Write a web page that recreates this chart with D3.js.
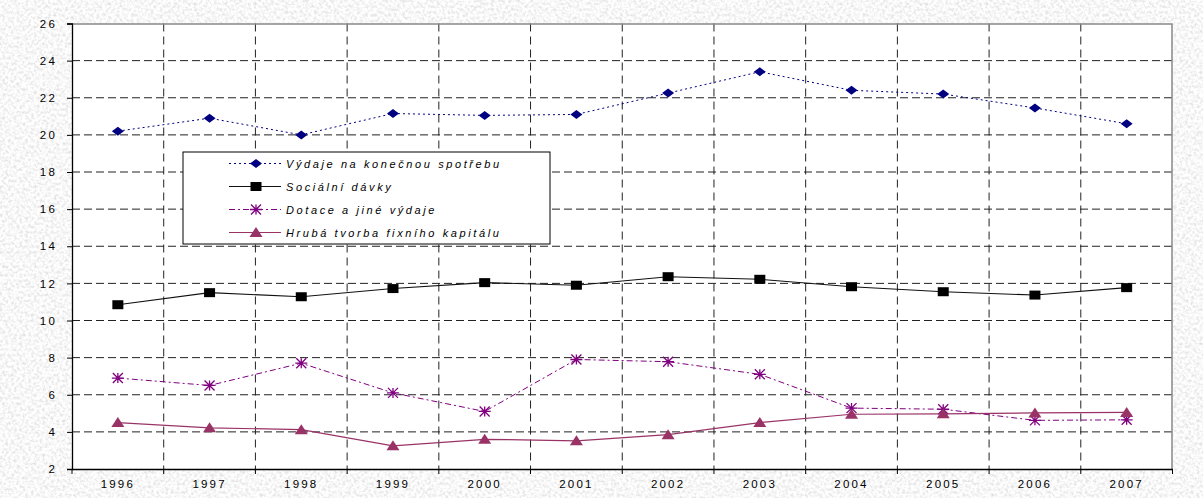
<!DOCTYPE html>
<html>
<head>
<meta charset="utf-8">
<script src="https://cdn.jsdelivr.net/npm/d3@7"></script>
<style>
  body { margin: 0; background: #fff; }
  text { font-family: "Liberation Sans", Arial, sans-serif; fill: #000; }
</style>
</head>
<body>
<div class="chart"></div>
<script>
const years = ["1996", "1997", "1998", "1999", "2000", "2001", "2002", "2003", "2004", "2005", "2006", "2007"]
const vydaje = [20.2, 20.9, 20.0, 21.15, 21.05, 21.1, 22.25, 23.4, 22.4, 22.2, 21.45, 20.6]
const socialni = [10.85, 11.5, 11.28, 11.72, 12.04, 11.9, 12.36, 12.22, 11.82, 11.55, 11.37, 11.77]
const dotace = [6.9, 6.5, 7.7, 6.1, 5.1, 7.9, 7.78, 7.1, 5.28, 5.22, 4.62, 4.65]
const hruba = [4.5, 4.22, 4.12, 3.25, 3.6, 3.52, 3.85, 4.5, 4.95, 4.97, 5.02, 5.05]
const yTicks = [2, 4, 6, 8, 10, 12, 14, 16, 18, 20, 22, 24, 26]

const seriesNames = ["Výdaje na konečnou spotřebu", "Sociální dávky", "Dotace a jiné výdaje", "Hrubá tvorba fixního kapitálu"]

let outerWidth = 1203
let outerHeight = 498
let margin = {top: 23.5, bottom: 29, left: 72, right: 30.5}
let w = outerWidth - margin.left - margin.right
let h = outerHeight - margin.top - margin.bottom

const root = d3.select(".chart")
    .append("svg")
    .attr("width", outerWidth)
    .attr("height", outerHeight)

// textured grey background
const defs = root.append("defs")
const filt = defs.append("filter").attr("id", "grain")
    .attr("x", 0).attr("y", 0).attr("width", "100%").attr("height", "100%")
    .attr("filterUnits", "userSpaceOnUse")
filt.attr("x", 0).attr("y", 0).attr("width", outerWidth).attr("height", outerHeight)
filt.append("feTurbulence")
    .attr("type", "fractalNoise")
    .attr("baseFrequency", 0.35)
    .attr("numOctaves", 3)
    .attr("seed", 7)
    .attr("result", "noise")
filt.append("feColorMatrix")
    .attr("in", "noise")
    .attr("type", "matrix")
    .attr("values", "0.55 0 0 0 0.66  0.55 0 0 0 0.66  0.55 0 0 0 0.66  0 0 0 0 1")

root.append("rect")
    .attr("x", 8).attr("y", 7)
    .attr("width", outerWidth - 8).attr("height", outerHeight - 7)
    .attr("fill", "#e8e8e8")
    .attr("filter", "url(#grain)")

const svg = root.append("g")
    .attr("transform", `translate(${margin.left}, ${margin.top})`)

const xScale = d3.scaleBand()
    .domain(years)
    .range([0, w])

const yScale = d3.scaleLinear()
    .domain([2, 26])
    .range([h, 0])

svg.append("rect")
    .attr("width", w).attr("height", h)
    .attr("fill", "#fff")

// grid
svg.selectAll(".hgrid")
    .data(yTicks.slice(1, -1))
    .enter().append("line")
    .attr("x1", 0).attr("x2", w)
    .attr("y1", d => yScale(d)).attr("y2", d => yScale(d))
    .attr("stroke", "#222")
    .attr("stroke-dasharray", "8,4")

svg.selectAll(".vgrid")
    .data(years.slice(1))
    .enter().append("line")
    .attr("x1", d => xScale(d)).attr("x2", d => xScale(d))
    .attr("y1", 0).attr("y2", h)
    .attr("stroke", "#222")
    .attr("stroke-dasharray", "8,5")

// frame top/right
svg.append("path")
    .attr("d", `M0,0.5H${w - 0.5}V${h}`)
    .attr("fill", "none")
    .attr("stroke", "#888")
    .attr("stroke-width", 1.5)

// axes
const yAxis = d3.axisLeft(yScale)
    .tickValues(yTicks)
    .tickSize(5)
    .tickPadding(10)
    .tickFormat(d3.format("d"))

const xAxis = d3.axisBottom(xScale)
    .tickSize(0)
    .tickPadding(11)

svg.append("g")
    .attr("class", "axis y-axis")
    .call(yAxis)

svg.append("g")
    .attr("class", "axis x-axis")
    .attr("transform", `translate(0, ${h})`)
    .call(xAxis)

svg.selectAll(".xtick")
    .data(years.concat(["end"]))
    .enter().append("line")
    .attr("x1", (d, i) => i * xScale.bandwidth()).attr("x2", (d, i) => i * xScale.bandwidth())
    .attr("y1", h).attr("y2", h + 5)
    .attr("stroke", "#000")

svg.selectAll(".axis .domain").attr("stroke", "#000").attr("stroke-width", 1.3)
svg.selectAll(".axis text")
    .attr("font-size", 11.5)
    .attr("letter-spacing", "2.2px")
    .style("font-family", "Liberation Sans, Arial, sans-serif")

// series
const cx = i => xScale(years[i]) + xScale.bandwidth() / 2

const series = [
    {name: seriesNames[0], values: vydaje, color: "#000080", dash: "2,3", width: 1, marker: "diamond"},
    {name: seriesNames[1], values: socialni, color: "#111", dash: null, width: 1.1, marker: "square"},
    {name: seriesNames[2], values: dotace, color: "#800080", dash: "6,3,2,3", width: 1, marker: "star"},
    {name: seriesNames[3], values: hruba, color: "#993366", dash: null, width: 1.2, marker: "triangle"}
]

function drawMarker(g, type, color) {
    if (type == "diamond") {
        g.append("path").attr("d", "M-6,0L0,-4.5L6,0L0,4.5Z").attr("fill", color)
    } else if (type == "square") {
        g.append("rect").attr("x", -5.5).attr("y", -4.5).attr("width", 11).attr("height", 9).attr("fill", "#000")
    } else if (type == "star") {
        g.append("path")
            .attr("d", "M-5,-5L5,5M-5,5L5,-5M0,-5V5M-6,0H6")
            .attr("stroke", color).attr("stroke-width", 1.3)
    } else if (type == "triangle") {
        g.append("path").attr("d", "M0,-5.5L6.5,4.5L-6.5,4.5Z").attr("fill", color)
    }
}

const line = d3.line()
    .x((d, i) => cx(i))
    .y(d => yScale(d))

series.forEach(s => {
    svg.append("path")
        .datum(s.values)
        .attr("d", line)
        .attr("fill", "none")
        .attr("stroke", s.color)
        .attr("stroke-width", s.width)
        .attr("stroke-dasharray", s.dash)

    s.values.forEach((v, i) => {
        const g = svg.append("g").attr("transform", `translate(${cx(i)}, ${yScale(v)})`)
        drawMarker(g, s.marker, s.color)
    })
})

// legend
const lg = root.append("g").attr("transform", "translate(183, 152)")
lg.append("rect")
    .attr("width", 367).attr("height", 92)
    .attr("fill", "#fff")
    .attr("stroke", "#000")
    .attr("stroke-width", 1)

series.forEach((s, i) => {
    const y = 11.5 + i * 23
    lg.append("line")
        .attr("x1", 46).attr("x2", 98)
        .attr("y1", y).attr("y2", y)
        .attr("stroke", s.color)
        .attr("stroke-width", s.width)
        .attr("stroke-dasharray", s.dash)
    drawMarker(lg.append("g").attr("transform", `translate(73, ${y})`), s.marker, s.color)
    lg.append("text")
        .attr("x", 103)
        .attr("y", y + 4)
        .attr("font-size", 11)
        .attr("font-style", "italic")
        .attr("letter-spacing", "2.6px")
        .text(s.name)
})
</script>
</body>
</html>
